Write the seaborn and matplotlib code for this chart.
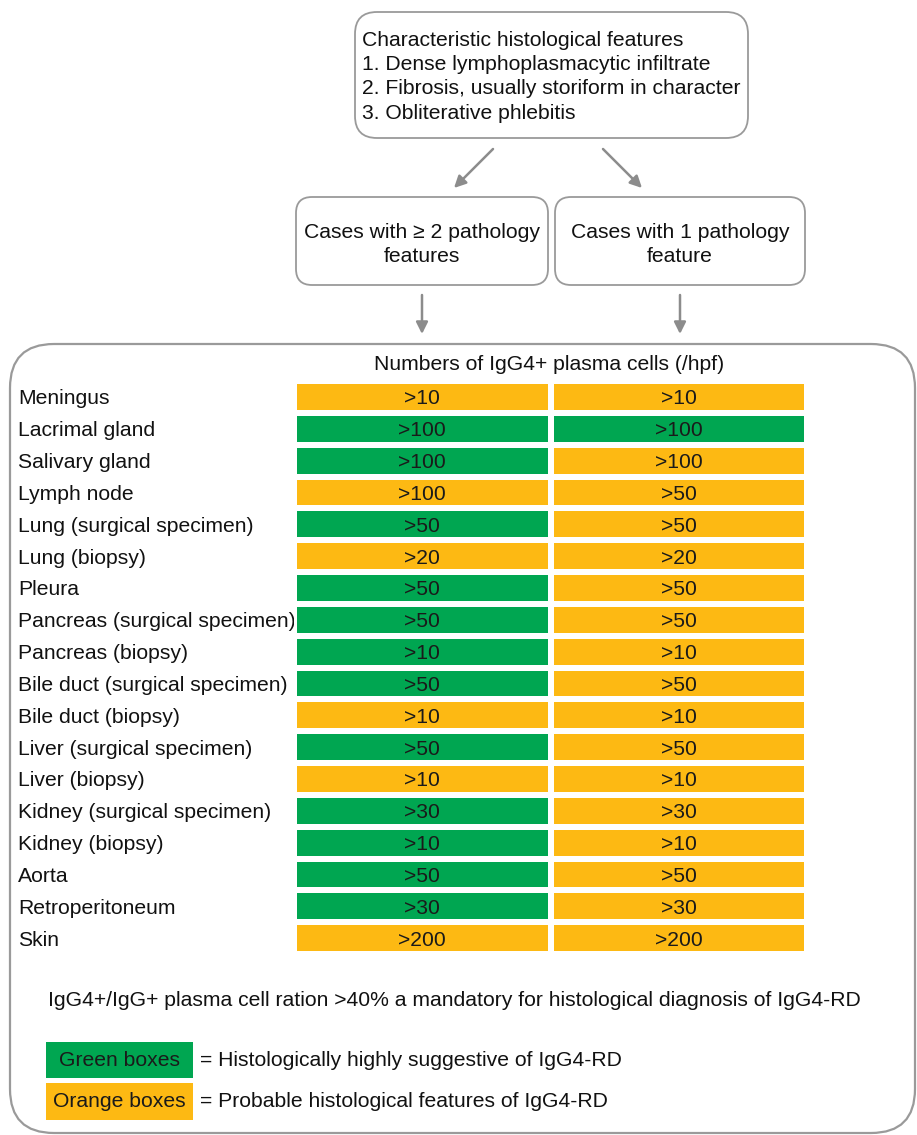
import numpy as np
import matplotlib
matplotlib.use('Agg')
import matplotlib.pyplot as plt
from matplotlib.colors import ListedColormap
from matplotlib.patches import FancyBboxPatch, Rectangle
import seaborn as sns

sns.set_style('white')
plt.rcParams['font.family'] = ['Liberation Sans', 'DejaVu Sans']

# data
sites = ['Meningus', 'Lacrimal gland', 'Salivary gland', 'Lymph node',
         'Lung (surgical specimen)', 'Lung (biopsy)', 'Pleura',
         'Pancreas (surgical specimen)', 'Pancreas (biopsy)',
         'Bile duct (surgical specimen)', 'Bile duct (biopsy)',
         'Liver (surgical specimen)', 'Liver (biopsy)',
         'Kidney (surgical specimen)', 'Kidney (biopsy)', 'Aorta',
         'Retroperitoneum', 'Skin']
cells_2feat = ['>10', '>100', '>100', '>100', '>50', '>20', '>50', '>50', '>10',
               '>50', '>10', '>50', '>10', '>30', '>10', '>50', '>30', '>200']
cells_1feat = ['>10', '>100', '>100', '>50', '>50', '>20', '>50', '>50', '>10',
               '>50', '>10', '>50', '>10', '>30', '>10', '>50', '>30', '>200']
# 1 = green (highly suggestive), 0 = orange (probable)
green_2feat = [0, 1, 1, 0, 1, 0, 1, 1, 1, 1, 0, 1, 0, 1, 1, 1, 1, 0]
green_1feat = [0, 1, 0, 0, 0, 0, 0, 0, 0, 0, 0, 0, 0, 0, 0, 0, 0, 0]

orange = '#FDB913'
green = '#00A651'
edge = '#9a9a9a'
arrow_c = '#8c8c8c'
txt = '#111111'

W, H = 917, 1135
fig = plt.figure(figsize=(W / 100, H / 100), dpi=100)
ax = fig.add_axes([0, 0, 1, 1])
ax.set_xlim(0, W)
ax.set_ylim(H, 0)
ax.axis('off')


def rbox(x0, y0, x1, y1, r, lw=1.3):
    p = FancyBboxPatch((x0 + r, y0 + r), (x1 - x0) - 2 * r, (y1 - y0) - 2 * r,
                       boxstyle='round,pad=%g' % r, fc='white', ec=edge, lw=lw)
    ax.add_patch(p)


def arrow(x0, y0, x1, y1):
    ax.annotate('', xy=(x1, y1), xytext=(x0, y0),
                arrowprops=dict(arrowstyle='-|>,head_length=0.7,head_width=0.35',
                                color=arrow_c, lw=1.8, shrinkA=0, shrinkB=0))


fs = 15.2

# top box
rbox(355, 12, 748, 138, 22)
top_lines = ['Characteristic histological features',
             '1. Dense lymphoplasmacytic infiltrate',
             '2. Fibrosis, usually storiform in character',
             '3. Obliterative phlebitis']
for i, t in enumerate(top_lines):
    ax.text(362, 40 + i * 24.5, t, fontsize=fs, va='center', ha='left', color=txt)

arrow(493, 149, 454, 188)
arrow(603, 149, 642, 188)

# middle boxes
rbox(296, 197, 548, 285, 16)
rbox(555, 197, 805, 285, 16)
ax.text(422, 232, 'Cases with \u2265 2 pathology', fontsize=fs, ha='center', va='center', color=txt)
ax.text(422, 257, 'features', fontsize=fs, ha='center', va='center', color=txt)
ax.text(680, 232, 'Cases with 1 pathology', fontsize=fs, ha='center', va='center', color=txt)
ax.text(680, 257, 'feature', fontsize=fs, ha='center', va='center', color=txt)

arrow(422, 295, 422, 334)
arrow(680, 295, 680, 334)

# big box
rbox(10, 344, 915, 1133, 44, lw=1.6)
ax.text(549, 364, 'Numbers of IgG4+ plasma cells (/hpf)', fontsize=fs, ha='center', va='center', color=txt)

# table via heatmap
x0, x1, y0, y1 = 294, 807, 381, 954
axh = fig.add_axes([x0 / W, 1 - y1 / H, (x1 - x0) / W, (y1 - y0) / H])
grid = np.array([green_2feat, green_1feat]).T
annot = np.array([cells_2feat, cells_1feat]).T
sns.heatmap(grid, ax=axh, cmap=ListedColormap([orange, green]), vmin=0, vmax=1,
            cbar=False, annot=annot, fmt='', linewidths=3, linecolor='white',
            annot_kws=dict(fontsize=fs, color='#1a1a1a', va='center_baseline'),
            xticklabels=False, yticklabels=sites)
axh.tick_params(axis='y', length=0, pad=(x0 - 18) * 0.72)
for lab in axh.get_yticklabels():
    lab.set_ha('left')
    lab.set_va('center_baseline')
    lab.set_fontsize(fs)
    lab.set_rotation(0)
    lab.set_color(txt)

# footer
ax.text(48, 1000, 'IgG4+/IgG+ plasma cell ration >40% a mandatory for histological diagnosis of IgG4-RD',
        fontsize=fs, ha='left', va='center', color=txt)
ax.add_patch(Rectangle((46, 1042), 147, 36, fc=green, ec='none'))
ax.add_patch(Rectangle((46, 1083), 147, 37, fc=orange, ec='none'))
ax.text(119.5, 1060, 'Green boxes', fontsize=fs, ha='center', va='center', color='#1a1a1a')
ax.text(119.5, 1101.5, 'Orange boxes', fontsize=fs, ha='center', va='center', color='#1a1a1a')
ax.text(200, 1060, '= Histologically highly suggestive of IgG4-RD', fontsize=fs, ha='left', va='center', color=txt)
ax.text(200, 1101.5, '= Probable histological features of IgG4-RD', fontsize=fs, ha='left', va='center', color=txt)

fig.savefig('out.png', dpi=100, facecolor='white')
